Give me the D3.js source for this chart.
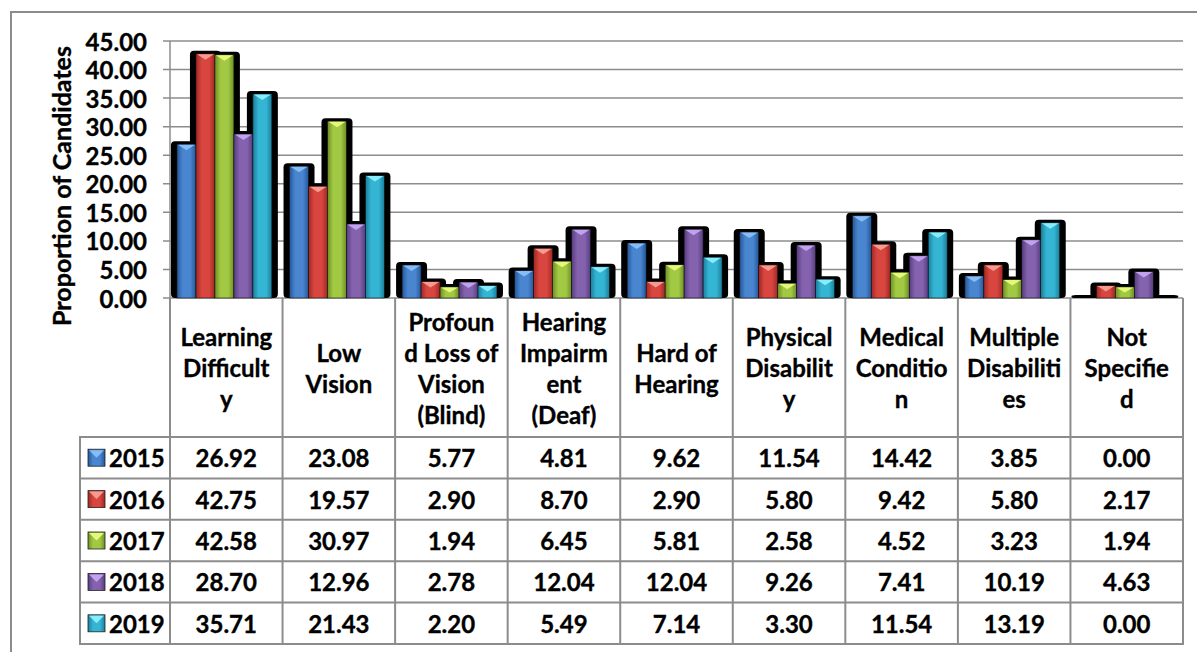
<!DOCTYPE html>
<html>
<head>
<meta charset="utf-8">
<script src="https://cdn.jsdelivr.net/npm/d3@7/dist/d3.min.js"></script>
<style>
  html, body { margin: 0; padding: 0; background: #fff; }
  svg { display: block; }
  text { font-family: Lato, "Open Sans", sans-serif; font-weight: bold; fill: #000; stroke: #000; stroke-width: 0.35px; }
</style>
</head>
<body>
<svg id="chart" width="1197" height="652"></svg>
<script>
// ---------- data ----------
const categories = ["Learning Difficulty", "Low Vision", "Profound Loss of Vision (Blind)",
  "Hearing Impairment (Deaf)", "Hard of Hearing", "Physical Disability",
  "Medical Condition", "Multiple Disabilities", "Not Specified"];
const categoryLines = [
  ["Learning", "Difficult", "y"],
  ["Low", "Vision"],
  ["Profoun", "d Loss of", "Vision", "(Blind)"],
  ["Hearing", "Impairm", "ent", "(Deaf)"],
  ["Hard of", "Hearing"],
  ["Physical", "Disabilit", "y"],
  ["Medical", "Conditio", "n"],
  ["Multiple", "Disabiliti", "es"],
  ["Not", "Specifie", "d"]
];
const years = ["2015", "2016", "2017", "2018", "2019"];
const v2015 = [26.92, 23.08, 5.77, 4.81, 9.62, 11.54, 14.42, 3.85, 0.00];
const v2016 = [42.75, 19.57, 2.90, 8.70, 2.90, 5.80, 9.42, 5.80, 2.17];
const v2017 = [42.58, 30.97, 1.94, 6.45, 5.81, 2.58, 4.52, 3.23, 1.94];
const v2018 = [28.70, 12.96, 2.78, 12.04, 12.04, 9.26, 7.41, 10.19, 4.63];
const v2019 = [35.71, 21.43, 2.20, 5.49, 7.14, 3.30, 11.54, 13.19, 0.00];
const yTicks = [0, 5, 10, 15, 20, 25, 30, 35, 40, 45];
const yTitle = "Proportion of Candidates";

const seriesValues = [v2015, v2016, v2017, v2018, v2019];
const colors = [
  { mid: "#4a86d0", dark: "#24589a", light: "#86bdf5" },
  { mid: "#d8463f", dark: "#a12723", light: "#f79a90" },
  { mid: "#a2c944", dark: "#6e8f23", light: "#e6f878" },
  { mid: "#8462ae", dark: "#573d80", light: "#c0a2ee" },
  { mid: "#34b5d4", dark: "#1a7f9b", light: "#88ecfb" }
];

// ---------- layout ----------
const svg = d3.select("#chart");
const plotLeft = 170, plotRight = 1183, plotTop = 41, plotBottom = 298;
const tableLeft = 80, headerBottom = 437, tableBottom = 644;
const gridColor = "#8c8c8c";
const fontSize = 24;

const x = d3.scaleBand().domain(categories).range([plotLeft, plotRight]).padding(0);
const bw = x.bandwidth();
const xs = d3.scaleBand().domain(years).range([bw * 0.062, bw * 0.905]).padding(0);
const y = d3.scaleLinear().domain([0, 45]).range([plotBottom, plotTop]);
const rowY = d3.scaleBand().domain(years).range([headerBottom, tableBottom]);

// gradients
const defs = svg.append("defs");
colors.forEach((c, i) => {
  const g = defs.append("linearGradient").attr("id", "g" + i)
    .attr("x1", "0").attr("x2", "1").attr("y1", "0").attr("y2", "0");
  g.append("stop").attr("offset", "0").attr("stop-color", c.dark);
  g.append("stop").attr("offset", "0.3").attr("stop-color", c.mid);
  g.append("stop").attr("offset", "0.7").attr("stop-color", c.mid);
  g.append("stop").attr("offset", "1").attr("stop-color", c.dark);
});

// outer frame
svg.append("rect").attr("x", 11).attr("y", 12).attr("width", 1200).attr("height", 700)
  .attr("fill", "none").attr("stroke", gridColor).attr("stroke-width", 2);

// gridlines + y axis labels
const yAxis = svg.append("g");
yTicks.forEach(t => {
  yAxis.append("line").attr("x1", plotLeft - 7).attr("x2", plotRight)
    .attr("y1", y(t)).attr("y2", y(t))
    .attr("stroke", gridColor).attr("stroke-width", 1.5);
  yAxis.append("text").attr("x", 147).attr("y", y(t))
    .attr("text-anchor", "end").attr("dominant-baseline", "central")
    .style("font-size", fontSize + "px").text(d3.format(".2f")(t));
});
svg.append("line").attr("x1", plotLeft).attr("x2", plotLeft).attr("y1", plotTop).attr("y2", plotBottom)
  .attr("stroke", gridColor).attr("stroke-width", 1.5);

// y title
svg.append("text").attr("transform", `translate(61,${(plotTop + 331) / 2}) rotate(-90)`)
  .attr("text-anchor", "middle").attr("dominant-baseline", "central")
  .style("font-size", "25px").text(yTitle);

// bars data
const bars = [];
seriesValues.forEach((vals, si) => {
  vals.forEach((v, ci) => bars.push({ si, ci, v, year: years[si], cat: categories[ci] }));
});

// black shadows first
svg.append("g").selectAll("rect").data(bars).join("rect")
  .attr("x", d => x(d.cat) + xs(d.year) - 6)
  .attr("y", d => y(d.v) - 3)
  .attr("width", xs.bandwidth() + 12)
  .attr("height", d => y(0) - y(d.v) + 3)
  .attr("rx", 4).attr("fill", "#000");

// colored bars
const barG = svg.append("g");
barG.selectAll("rect").data(bars.filter(d => d.v > 0)).join("rect")
  .attr("x", d => x(d.cat) + xs(d.year))
  .attr("y", d => y(d.v))
  .attr("width", xs.bandwidth())
  .attr("height", d => y(0) - y(d.v))
  .attr("fill", d => `url(#g${d.si})`)
  .attr("stroke", "#111").attr("stroke-width", 0.6);
barG.selectAll("path").data(bars.filter(d => d.v > 0)).join("path")
  .attr("d", d => {
    const x0 = x(d.cat) + xs(d.year), w = xs.bandwidth(), t = y(d.v);
    const h = Math.min(6, (y(0) - t) / 2);
    return `M${x0 + 1},${t + 0.5}L${x0 + w - 1},${t + 0.5}L${x0 + w / 2},${t + h}Z`;
  })
  .attr("fill", d => colors[d.si].light);

// ---------- table ----------
const tbl = svg.append("g");
const colEdges = categories.map(c => x(c)).concat([plotRight]);
colEdges.forEach(cx => {
  tbl.append("line").attr("x1", cx).attr("x2", cx).attr("y1", plotBottom).attr("y2", tableBottom)
    .attr("stroke", gridColor).attr("stroke-width", 2);
});
tbl.append("line").attr("x1", tableLeft).attr("x2", tableLeft).attr("y1", headerBottom).attr("y2", tableBottom)
  .attr("stroke", gridColor).attr("stroke-width", 2);
[headerBottom].concat(years.map(yr => rowY(yr) + rowY.bandwidth())).forEach(ry => {
  tbl.append("line").attr("x1", tableLeft - 1).attr("x2", plotRight + 1).attr("y1", ry).attr("y2", ry)
    .attr("stroke", gridColor).attr("stroke-width", 2);
});

// header text
const lineH = 31;
categories.forEach((c, ci) => {
  const lines = categoryLines[ci];
  const cx = x(c) + bw / 2;
  const cy = (plotBottom + headerBottom) / 2;
  lines.forEach((ln, li) => {
    tbl.append("text").attr("x", cx).attr("y", cy + (li - (lines.length - 1) / 2) * lineH)
      .attr("text-anchor", "middle").attr("dominant-baseline", "central")
      .style("font-size", fontSize + "px").text(ln);
  });
});

// data rows
years.forEach((yr, si) => {
  const cy = rowY(yr) + rowY.bandwidth() / 2;
  const mx = 88, ms = 17;
  tbl.append("rect").attr("x", mx).attr("y", cy - ms / 2).attr("width", ms).attr("height", ms)
    .attr("fill", `url(#g${si})`).attr("stroke", "#222").attr("stroke-width", 0.8);
  tbl.append("path")
    .attr("d", `M${mx + 1},${cy - ms / 2 + 1}L${mx + ms - 1},${cy - ms / 2 + 1}L${mx + ms / 2},${cy}Z`)
    .attr("fill", colors[si].light);
  tbl.append("text").attr("x", 109).attr("y", cy).attr("dominant-baseline", "central")
    .style("font-size", fontSize + "px").text(yr);
  seriesValues[si].forEach((v, ci) => {
    tbl.append("text").attr("x", x(categories[ci]) + bw / 2).attr("y", cy)
      .attr("text-anchor", "middle").attr("dominant-baseline", "central")
      .style("font-size", fontSize + "px").text(d3.format(".2f")(v));
  });
});
</script>
</body>
</html>
